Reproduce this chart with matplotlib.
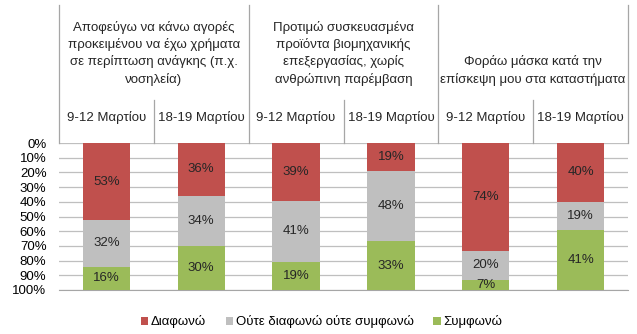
import numpy as np
import matplotlib.pyplot as plt
from matplotlib.transforms import blended_transform_factory

plt.rcParams['font.family'] = ['Liberation Sans', 'DejaVu Sans']

groups = ['Αποφεύγω να κάνω αγορές\nπροκειμένου να έχω χρήματα\nσε περίπτωση ανάγκης (π.χ.\nνοσηλεία)',
          'Προτιμώ συσκευασμένα\nπροϊόντα βιομηχανικής\nεπεξεργασίας, χωρίς\nανθρώπινη παρέμβαση',
          'Φοράω μάσκα κατά την\nεπίσκεψη μου στα καταστήματα']
periods = ['9-12 Μαρτίου', '18-19 Μαρτίου'] * 3

disagree = [53, 36, 39, 19, 74, 40]
neutral = [32, 34, 41, 48, 20, 19]
agree = [16, 30, 19, 33, 7, 41]

series = [('Διαφωνώ', disagree, '#C0504D'),
          ('Ούτε διαφωνώ ούτε συμφωνώ', neutral, '#BFBFBF'),
          ('Συμφωνώ', agree, '#9BBB59')]

W, H = 637, 334
fig = plt.figure(figsize=(W / 100, H / 100), dpi=100)
ax = fig.add_axes([59 / W, 1 - 290 / H, (628 - 59) / W, (290 - 143) / H])

x = np.arange(len(periods))
totals = np.array(disagree) + np.array(neutral) + np.array(agree)
bottom = np.zeros(len(x))
for name, vals, col in series:
    share = np.array(vals) / totals * 100
    ax.bar(x, share, 0.5, bottom=bottom, color=col, label=name, zorder=3)
    for xi, b, s, v in zip(x, bottom, share, vals):
        ax.text(xi, b + s / 2, f'{v}%', ha='center', va='center', fontsize=9.5,
                color='#262626', zorder=4)
    bottom += share

ax.set_xlim(-0.5, len(x) - 0.5)
ax.set_ylim(100, 0)
ax.set_yticks(range(0, 101, 10))
ax.set_yticklabels([f'{t}%' for t in range(0, 101, 10)], fontsize=9.5)
ax.tick_params(axis='y', length=0, pad=9)
ax.set_xticks([])
ax.grid(axis='y', color='#BFBFBF', linewidth=0.9, zorder=0)
for s in ['top', 'right', 'left']:
    ax.spines[s].set_visible(False)
ax.spines['bottom'].set_color('#A6A6A6')

# category header
tr = blended_transform_factory(ax.transData, fig.transFigure)
def fy(py):
    return 1 - py / H
for b in [-0.5, 1.5, 3.5, 5.5]:
    ax.plot([b, b], [fy(5), fy(143)], color='#A6A6A6', lw=0.9, transform=tr, clip_on=False)
for b in [0.5, 2.5, 4.5]:
    ax.plot([b, b], [fy(100), fy(143)], color='#A6A6A6', lw=0.9, transform=tr, clip_on=False)
for xi, p in zip(x, periods):
    ax.text(xi, fy(117), p, ha='center', va='center', fontsize=9.5, transform=tr, color='#262626')
for gi, g in enumerate(groups):
    ax.text(2 * gi + 0.5, fy(86), g, ha='center', va='bottom', fontsize=9.5,
            linespacing=1.45, transform=tr, color='#262626')

fig.legend(loc='center', bbox_to_anchor=(0.505, 1 - 322 / H), ncol=3, frameon=False,
           fontsize=9.5, handlelength=0.55, handleheight=0.55, handletextpad=0.2,
           columnspacing=1.5)

fig.savefig('out.png', dpi=100)
